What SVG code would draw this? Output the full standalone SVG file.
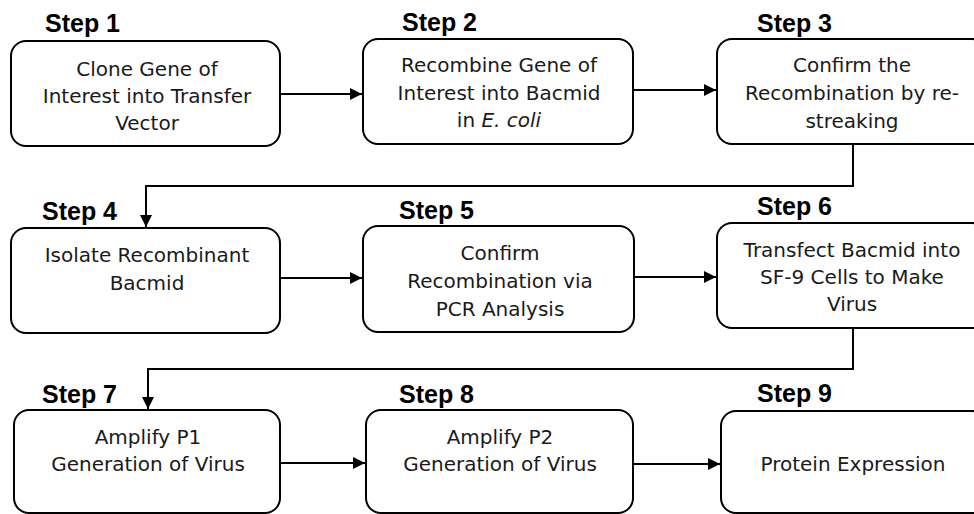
<svg xmlns="http://www.w3.org/2000/svg" width="974" height="514" viewBox="0 0 974 514">
<style>
.box{fill:#fff;stroke:#000;stroke-width:2}
.lbl{font-family:"Liberation Sans",Arial,sans-serif;font-weight:bold;font-size:25px;fill:#000}
.t{font-family:"DejaVu Sans","Liberation Sans",sans-serif;font-size:20px;fill:#1a1a1a;text-anchor:middle}
.c{fill:none;stroke:#000;stroke-width:2}
</style>
<defs>
<marker id="ah" markerWidth="12" markerHeight="12" viewBox="0 0 12 12" refX="12" refY="6" orient="auto" markerUnits="userSpaceOnUse">
<path d="M0,0 L12,6 L0,12 Z" fill="#000"/>
</marker>
</defs>
<rect width="974" height="514" fill="#fff"/>
<g id="connectors">
<path class="c" d="M280,94 H362" marker-end="url(#ah)"/>
<path class="c" d="M633,90 H716" marker-end="url(#ah)"/>
<path class="c" d="M853,144 V186 H146 V227" marker-end="url(#ah)"/>
<path class="c" d="M280,278 H362" marker-end="url(#ah)"/>
<path class="c" d="M634,277 H716" marker-end="url(#ah)"/>
<path class="c" d="M853,328 V369 H148 V409" marker-end="url(#ah)"/>
<path class="c" d="M280,463 H365" marker-end="url(#ah)"/>
<path class="c" d="M633,464 H720" marker-end="url(#ah)"/>
</g>
<g id="step1">
<text class="lbl" x="45" y="32">Step 1</text>
<rect class="box" x="11" y="41" width="269" height="105" rx="15"/>
<text class="t" x="147" y="76">Clone Gene of</text>
<text class="t" x="147" y="103">Interest into Transfer</text>
<text class="t" x="147" y="130">Vector</text>
</g>
<g id="step2">
<text class="lbl" x="402" y="31">Step 2</text>
<rect class="box" x="363" y="39" width="270" height="105" rx="15"/>
<text class="t" x="499" y="72">Recombine Gene of</text>
<text class="t" x="499" y="100">Interest into Bacmid</text>
<text class="t" x="499" y="127">in <tspan font-style="italic">E. coli</tspan></text>
</g>
<g id="step3">
<text class="lbl" x="757" y="32">Step 3</text>
<rect class="box" x="717" y="39" width="270" height="105" rx="15"/>
<text class="t" x="852" y="72">Confirm the</text>
<text class="t" x="852" y="100">Recombination by re-</text>
<text class="t" x="852" y="128">streaking</text>
</g>
<g id="step4">
<text class="lbl" x="42" y="220">Step 4</text>
<rect class="box" x="11" y="228" width="269" height="105" rx="15"/>
<text class="t" x="147" y="262">Isolate Recombinant</text>
<text class="t" x="147" y="290">Bacmid</text>
</g>
<g id="step5">
<text class="lbl" x="399" y="219">Step 5</text>
<rect class="box" x="363" y="226" width="271" height="106" rx="15"/>
<text class="t" x="500" y="260">Confirm</text>
<text class="t" x="500" y="288">Recombination via</text>
<text class="t" x="500" y="316">PCR Analysis</text>
</g>
<g id="step6">
<text class="lbl" x="757" y="215">Step 6</text>
<rect class="box" x="717" y="223" width="270" height="105" rx="15"/>
<text class="t" x="852" y="257">Transfect Bacmid into</text>
<text class="t" x="852" y="284">SF-9 Cells to Make</text>
<text class="t" x="852" y="311">Virus</text>
</g>
<g id="step7">
<text class="lbl" x="42" y="403">Step 7</text>
<rect class="box" x="14" y="410" width="266" height="103" rx="15"/>
<text class="t" x="148" y="444">Amplify P1</text>
<text class="t" x="148" y="471">Generation of Virus</text>
</g>
<g id="step8">
<text class="lbl" x="399" y="403">Step 8</text>
<rect class="box" x="366" y="410" width="267" height="103" rx="15"/>
<text class="t" x="500" y="444">Amplify P2</text>
<text class="t" x="500" y="471">Generation of Virus</text>
</g>
<g id="step9">
<text class="lbl" x="757" y="402">Step 9</text>
<rect class="box" x="721" y="411" width="266" height="102" rx="15"/>
<text class="t" x="853" y="471">Protein Expression</text>
</g>
</svg>
